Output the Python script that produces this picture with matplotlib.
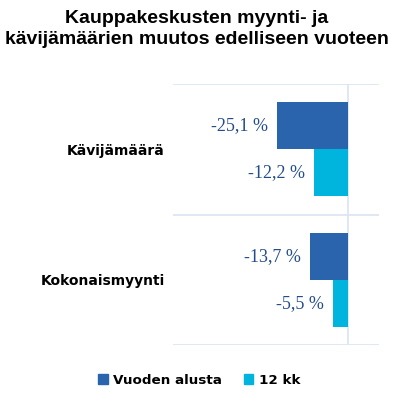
import matplotlib
matplotlib.use("Agg")
from matplotlib import pyplot as plt
from matplotlib.patches import Patch
import numpy as np

# data
categories = ["Kävijämäärä", "Kokonaismyynti"]
series_names = ["Vuoden alusta", "12 kk"]
vuoden_alusta = [-25.1, -13.7]
kk12 = [-12.2, -5.5]

col_dark = "#2964AC"
col_cyan = "#00B5DD"
grid_col = "#DCE6F2"
label_col = "#234C8A"

fig = plt.figure(figsize=(3.93, 4.04), dpi=100)
ax = fig.add_axes([0.440, 0.146, 0.524, 0.646])

y = np.arange(len(categories))
h = 0.36
b1 = ax.barh(y - h / 2, vuoden_alusta, height=h, color=col_dark, zorder=3)
b2 = ax.barh(y + h / 2, kk12, height=h, color=col_cyan, zorder=3)

for bars, vals in [(b1, vuoden_alusta), (b2, kk12)]:
    for bar, v in zip(bars, vals):
        cy = bar.get_y() + bar.get_height() / 2
        ax.annotate("{:.1f} %".format(v).replace(".", ","), xy=(v, cy),
                    xytext=(-6.5, 0), textcoords="offset points",
                    ha="right", va="center", fontsize=13,
                    family="Liberation Serif", color=label_col)

ax.set_xlim(-62, 10.8)
ax.set_ylim(1.5, -0.5)

for yy in [-0.5, 0.5, 1.5]:
    ax.axhline(yy, color=grid_col, lw=1.3, zorder=1)
ax.axvline(0, color=grid_col, lw=1.3, zorder=1)

for s in ax.spines.values():
    s.set_visible(False)
ax.set_xticks([])
ax.set_yticks(y)
ax.set_yticklabels(categories, fontsize=10, fontweight="bold")
ax.tick_params(axis="y", length=0, pad=6)

fig.text(0.5, 0.929, "Kauppakeskusten myynti- ja\nkävijämäärien muutos edelliseen vuoteen",
         ha="center", va="center", fontsize=14, fontweight="bold",
         family="Liberation Sans", linespacing=1.3)

handles = [Patch(color=col_dark), Patch(color=col_cyan)]
fig.legend(handles, series_names, loc="center", bbox_to_anchor=(0.507, 0.059),
           ncol=2, frameon=False, handlelength=0.7, handleheight=0.7,
           handletextpad=0.4, columnspacing=1.6,
           prop={"weight": "bold", "size": 9.7})

fig.savefig("out.png", dpi=100)
